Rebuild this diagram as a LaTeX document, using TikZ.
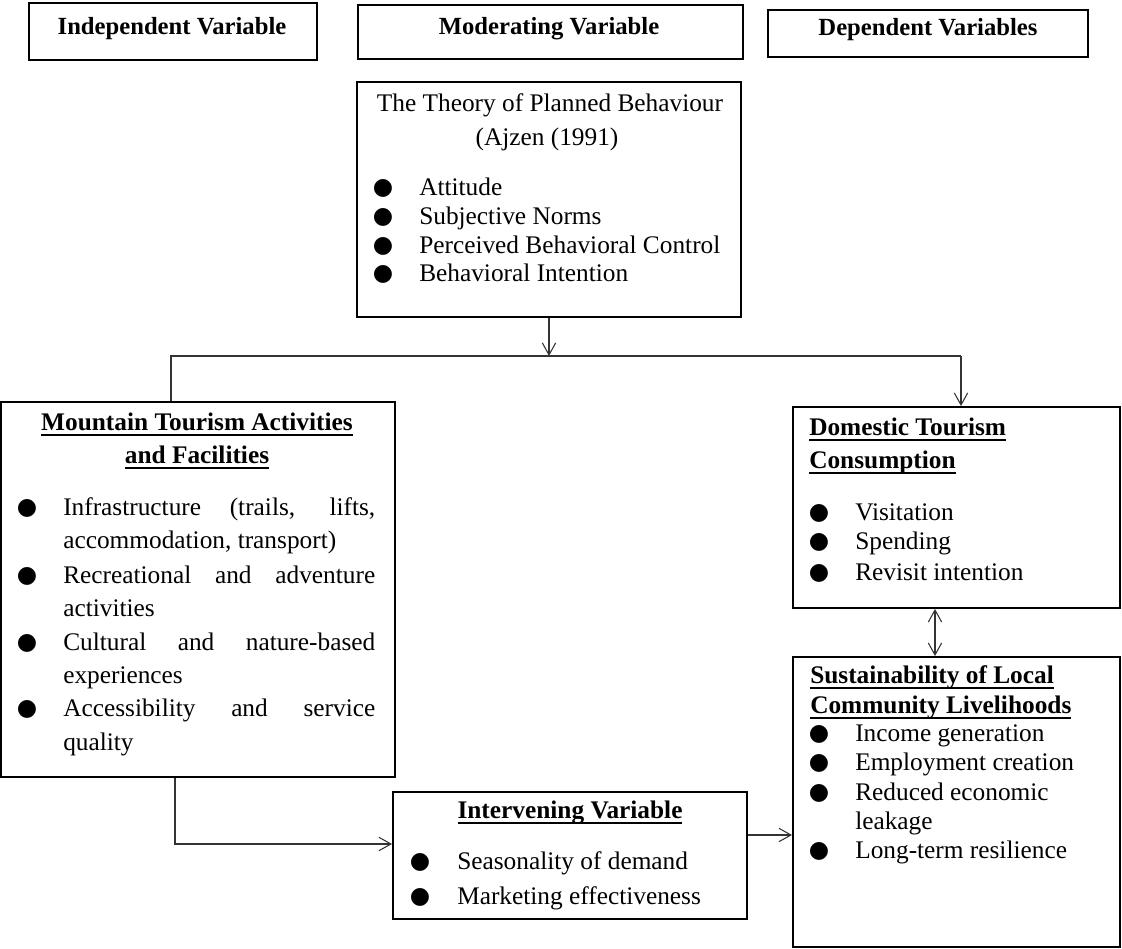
\documentclass[tikz,border=0pt]{standalone}
\usepackage{fontspec}
\setmainfont{Liberation Serif}
\newfontfamily\bulletfont{DejaVu Sans}
\newcommand{\myul}[1]{\leavevmode\setbox0\hbox{#1}\rlap{\vrule width\wd0 height -3pt depth 4.2pt}\box0}
\usetikzlibrary{arrows.meta}
\tikzset{
 x=0.75pt, y=-0.75pt,
 box/.style={draw, line width=1.4pt, inner sep=0pt},
 hdr/.style={font=\fontsize{18.5}{21}\selectfont\bfseries, inner sep=0pt, anchor=mid},
 txt/.style={font=\fontsize{19}{22}\selectfont, inner sep=0pt, anchor=mid west},
 htxt/.style={font=\fontsize{19}{22}\selectfont\bfseries, inner sep=0pt, anchor=mid west},
 bul/.style={font=\bulletfont\fontsize{17.5}{17.5}\selectfont, inner sep=0pt, anchor=center, yshift=3pt},
 conn/.style={line width=0.8pt, draw=black!80},
 arr/.style={conn, -{Straight Barb[length=9pt,width=10pt]}},
 darr/.style={conn, {Straight Barb[length=9pt,width=10pt]}-{Straight Barb[length=9pt,width=10pt]}},
}
\begin{document}
\begin{tikzpicture}
\fill[white] (0,0) rectangle (1122,949);
\useasboundingbox (0,0) rectangle (1122,949);

% header boxes
\node[box, minimum width=216pt, minimum height=42.75pt] (indep) at (173,31.5) {};
\node[hdr] (indept) at (172,31) {Independent Variable};
\node[box, minimum width=288.75pt, minimum height=40.5pt] (mod) at (550.5,32) {};
\node[hdr] (modt) at (549,31) {Moderating Variable};
\node[box, minimum width=240pt, minimum height=35.25pt] (dep) at (928,33.5) {};
\node[hdr] (dept) at (928,32) {Dependent Variables};

% TPB box
\node[box, minimum width=288pt, minimum height=176.25pt] (tpb) at (549,199.5) {};
\node[txt, anchor=mid] (tpb1) at (550,108) {The Theory of Planned Behaviour};
\node[txt, anchor=mid] (tpb2) at (547,142) {(Ajzen (1991)};
\node[bul] (tb1) at (383,192) {●};
\node[txt] (tt1) at (419,192) {Attitude};
\node[bul] (tb2) at (383,221) {●};
\node[txt] (tt2) at (419,221) {Subjective Norms};
\node[bul] (tb3) at (383,250) {●};
\node[txt] (tt3) at (419,250) {Perceived Behavioral Control};
\node[bul] (tb4) at (383,278) {●};
\node[txt] (tt4) at (419,278) {Behavioral Intention};

% Mountain box
\node[box, minimum width=295.5pt, minimum height=281.25pt] (mount) at (198,589.5) {};
\node[htxt, anchor=mid] (mh1) at (197,427) {\myul{Mountain Tourism Activities}};
\node[htxt, anchor=mid] (mh2) at (197,460) {\myul{and Facilities}};
\node[bul] (mb1) at (27,512) {●};
\node[txt] (m1) at (63,512) {\makebox[234pt][s]{Infrastructure (trails, lifts,}};
\node[txt] (m2) at (63,545) {accommodation, transport)};
\node[bul] (mb2) at (27,580) {●};
\node[txt] (m3) at (63,580) {\makebox[234pt][s]{Recreational and adventure}};
\node[txt] (m4) at (63,613) {activities};
\node[bul] (mb3) at (27,647) {●};
\node[txt] (m5) at (63,647) {\makebox[234pt][s]{Cultural and nature-based}};
\node[txt] (m6) at (63,680) {experiences};
\node[bul] (mb4) at (27,713) {●};
\node[txt] (m7) at (63,713) {\makebox[234pt][s]{Accessibility and service}};
\node[txt] (m8) at (63,747) {quality};

% Domestic box
\node[box, minimum width=245.25pt, minimum height=150.75pt] (dom) at (956.5,507.5) {};
\node[htxt] (dh1) at (809,432) {\myul{Domestic Tourism}};
\node[htxt] (dh2) at (809,465) {\myul{Consumption}};
\node[bul] (db1) at (819,517) {●};
\node[txt] (d1) at (855,517) {Visitation};
\node[bul] (db2) at (819,546) {●};
\node[txt] (d2) at (855,546) {Spending};
\node[bul] (db3) at (819,577) {●};
\node[txt] (d3) at (855,577) {Revisit intention};

% Sustainability box
\node[box, minimum width=245.25pt, minimum height=217.5pt] (sust) at (956.5,802) {};
\node[htxt] (sh1) at (810,680) {\myul{Sustainability of Local}};
\node[htxt] (sh2) at (810,710) {\myul{Community Livelihoods}};
\node[bul] (sb1) at (819,738) {●};
\node[txt] (s1) at (855,738) {Income generation};
\node[bul] (sb2) at (819,767) {●};
\node[txt] (s2) at (855,767) {Employment creation};
\node[bul] (sb3) at (819,797) {●};
\node[txt] (s3) at (855,797) {Reduced economic};
\node[txt] (s4) at (855,826) {leakage};
\node[bul] (sb4) at (819,855) {●};
\node[txt] (s5) at (855,855) {Long-term resilience};

% Intervening box
\node[box, minimum width=265.5pt, minimum height=95.25pt] (inter) at (570,855.5) {};
\node[htxt, anchor=mid] (ih) at (570,815) {\myul{Intervening Variable}};
\node[bul] (ib1) at (420,866) {●};
\node[txt] (i1) at (457,866) {Seasonality of demand};
\node[bul] (ib2) at (420,901) {●};
\begin{scope}
\clip (393,792) rectangle (747,909);
\node[txt] (i2) at (457,901) {Marketing effectiveness};
\end{scope}

% connectors
\coordinate (jl) at (171,356);
\coordinate (jr) at (961,356);
\coordinate (jm) at (549,356);
\draw[arr] (jm |- tpb.south) -- (jm);
\draw[conn] (jl |- mount.north) -- (jl) -- (jr);
\draw[arr] (jr) -- (jr |- dom.north);
\coordinate (ml) at (175,844);
\draw[arr] (ml |- mount.south) -- (ml) -- (ml -| inter.west);
\coordinate (ie) at (770,835);
\draw[arr] (ie -| inter.east) -- (ie -| sust.west);
\coordinate (dd) at (935,632);
\draw[darr] (dd |- dom.south) -- (dd |- sust.north);
\end{tikzpicture}
\end{document}
